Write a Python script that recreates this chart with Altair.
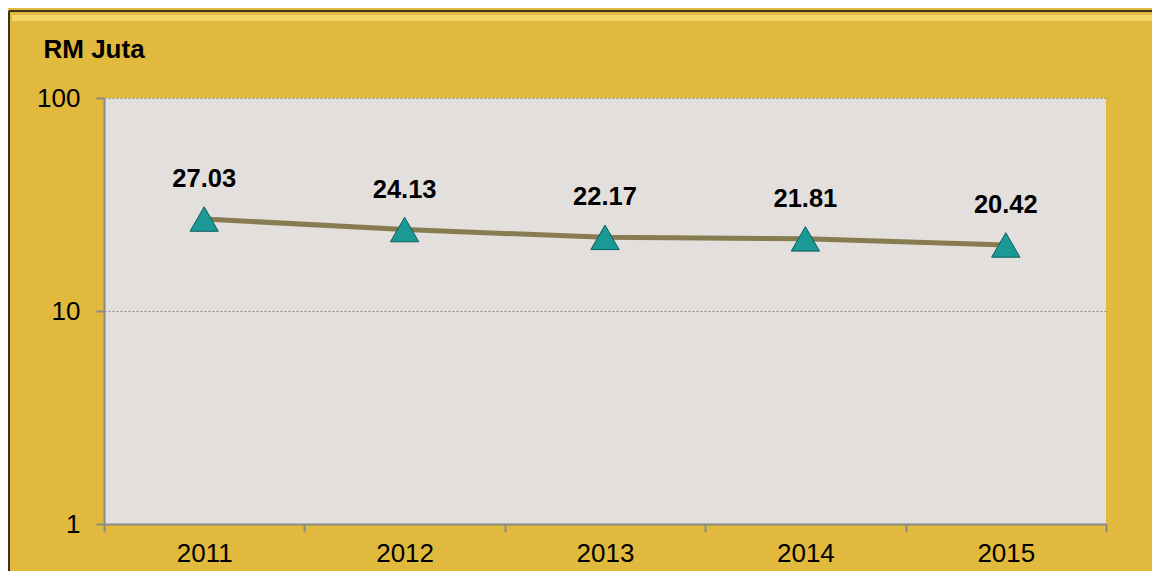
import altair as alt
import pandas as pd

years = ["2011", "2012", "2013", "2014", "2015"]
values = [27.03, 24.13, 22.17, 21.81, 20.42]

df = pd.DataFrame({"year": years, "value": values})

FONT = "Liberation Sans"

x_enc = alt.X(
    "year:N",
    sort=years,
    scale=alt.Scale(paddingInner=0, paddingOuter=0),
    axis=alt.Axis(
        title=None,
        labelAngle=0,
        labelFontSize=26,
        labelFont=FONT,
        labelColor="#000000",
        labelPadding=8,
        tickBand="extent",
        tickSize=8,
        tickWidth=2,
        tickColor="#8a8a8a",
        domainColor="#8a8a8a",
        domainWidth=2,
        grid=False,
    ),
)

y_enc = alt.Y(
    "value:Q",
    scale=alt.Scale(type="log", domain=[1, 100]),
    axis=alt.Axis(
        values=[1, 10, 100],
        format="d",
        title="RM Juta",
        titleAngle=0,
        titleX=-61,
        titleY=-41,
        titleAlign="left",
        titleBaseline="alphabetic",
        titleFontSize=26,
        titleFont=FONT,
        titleFontWeight="bold",
        titleColor="#000000",
        labelFontSize=26,
        labelFont=FONT,
        labelColor="#000000",
        labelPadding=16,
        tickSize=8,
        tickWidth=2,
        tickColor="#8a8a8a",
        domainColor="#8a8a8a",
        domainWidth=2,
        grid=True,
        gridColor="#8a8a8a",
        gridDash=[2, 2],
        gridWidth=1,
    ),
)

base = alt.Chart(df)

line = base.mark_line(color="#877B4F", strokeWidth=5).encode(x=x_enc, y=y_enc)

points = base.mark_point(
    shape="triangle-up", filled=True, size=800, fill="#1A9996",
    stroke="#0A5E5C", strokeWidth=1, opacity=1
).encode(x=x_enc, y=y_enc)

labels = base.mark_text(
    dy=-40, fontSize=25.5, fontWeight="bold", font=FONT, color="#000000"
).encode(x=x_enc, y=y_enc, text=alt.Text("value:Q", format=".2f"))

frame_glow = alt.Chart(df).mark_rule(color="#F3D766", strokeWidth=6, opacity=0.9).encode(
    x=alt.value(-92), x2=alt.value(1050), y=alt.value(-80)
)
frame_top = alt.Chart(df).mark_rule(color="#3a3220", strokeWidth=2).encode(
    x=alt.value(-95), x2=alt.value(1050), y=alt.value(-87)
)
frame_left = alt.Chart(df).mark_rule(color="#3a3220", strokeWidth=2).encode(
    x=alt.value(-95), y=alt.value(-87), y2=alt.value(475)
)

chart = (
    alt.layer(frame_glow, frame_top, frame_left, line, points, labels)
    .properties(
        width=1002,
        height=426,
        autosize=alt.AutoSizeParams(type="none"),
        padding={"left": 96, "top": 90, "right": 46, "bottom": 47},
        background="#E1B93D",
    )
    .configure_view(fill="#E3DFDC", stroke=None)
)

chart.save("out.html", embed_options={"renderer": "svg", "actions": False})
